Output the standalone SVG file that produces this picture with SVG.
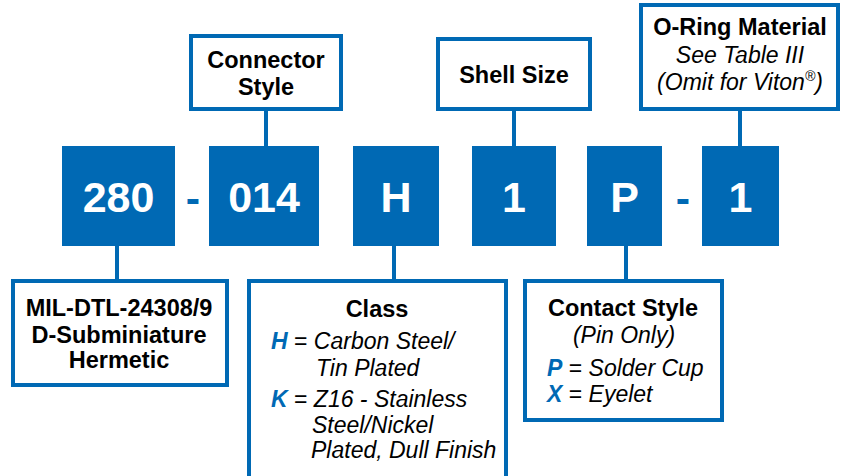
<svg xmlns="http://www.w3.org/2000/svg" width="841" height="476" viewBox="0 0 841 476">
<style>
.code{fill:#0069b4}
.box{fill:#fff;stroke:#0069b4;stroke-width:4}
.conn line{stroke:#0069b4;stroke-width:4}
.big{font-family:"Liberation Sans",Arial,sans-serif;font-weight:bold;font-size:43px;fill:#fff;text-anchor:middle}
.dash{font-family:"Liberation Sans",Arial,sans-serif;font-weight:bold;font-size:43px;fill:#0069b4;text-anchor:middle}
.hd{font-family:"Liberation Sans",Arial,sans-serif;font-weight:bold;font-size:23.5px;fill:#000;text-anchor:middle}
.it{font-family:"Liberation Sans",Arial,sans-serif;font-style:italic;font-size:23px;fill:#000}
.c{text-anchor:middle}
.k{font-weight:bold;fill:#0069b4}
.n{font-style:normal}
</style>
<rect width="841" height="476" fill="#fff"/>
<g class="conn">
<line x1="266" y1="109" x2="266" y2="147"/>
<line x1="514" y1="109" x2="514" y2="147"/>
<line x1="740" y1="109" x2="740" y2="147"/>
<line x1="117" y1="245" x2="117" y2="281"/>
<line x1="394" y1="245" x2="394" y2="281"/>
<line x1="626" y1="245" x2="626" y2="281"/>
</g>
<g id="code-280"><rect class="code" x="62" y="146" width="113" height="100"/><text class="big" x="118.5" y="212">280</text></g>
<g id="dash1"><text class="dash" x="193" y="213">-</text></g>
<g id="code-014"><rect class="code" x="209" y="146" width="110" height="100"/><text class="big" x="264" y="212">014</text></g>
<g id="code-H"><rect class="code" x="353" y="146" width="86" height="100"/><text class="big" x="396" y="212">H</text></g>
<g id="code-1a"><rect class="code" x="472" y="146" width="84" height="100"/><text class="big" x="514" y="212">1</text></g>
<g id="code-P"><rect class="code" x="587" y="146" width="75" height="100"/><text class="big" x="624.5" y="212">P</text></g>
<g id="dash2"><text class="dash" x="683" y="213">-</text></g>
<g id="code-1b"><rect class="code" x="702" y="146" width="77" height="100"/><text class="big" x="740.5" y="212">1</text></g>

<g id="connector-style"><rect class="box" x="191" y="36" width="150" height="73"/>
<text class="hd" x="266" y="68">Connector</text><text class="hd" x="266" y="95">Style</text></g>
<g id="shell-size"><rect class="box" x="438" y="39" width="152" height="70"/>
<text class="hd" x="514" y="83">Shell Size</text></g>
<g id="oring"><rect class="box" x="641" y="5" width="197" height="104"/>
<text class="hd" x="740" y="35">O-Ring Material</text>
<text class="it c" x="740" y="63">See Table III</text>
<text class="it c" x="740" y="90">(Omit for Viton<tspan font-size="14" dy="-9">®</tspan><tspan dy="9">)</tspan></text></g>
<g id="mil"><rect class="box" x="13" y="281" width="214" height="104"/>
<text class="hd" x="119" y="316">MIL-DTL-24308/9</text>
<text class="hd" x="119" y="343">D-Subminiature</text>
<text class="hd" x="119" y="368">Hermetic</text></g>
<g id="class"><rect class="box" x="249" y="281" width="257" height="220"/>
<text class="hd" x="377" y="317">Class</text>
<text class="it" x="271" y="349"><tspan class="k">H</tspan><tspan class="n"> = </tspan>Carbon Steel/</text>
<text class="it" x="316" y="376">Tin Plated</text>
<text class="it" x="271" y="407"><tspan class="k">K</tspan><tspan class="n"> = </tspan>Z16 - Stainless</text>
<text class="it" x="312" y="433">Steel/Nickel</text>
<text class="it" x="311" y="458">Plated, Dull Finish</text></g>
<g id="contact"><rect class="box" x="525" y="281" width="197" height="139"/>
<text class="hd" x="623" y="316">Contact Style</text>
<text class="it c" x="624" y="343">(Pin Only)</text>
<text class="it" x="547" y="376"><tspan class="k">P</tspan><tspan class="n"> = </tspan>Solder Cup</text>
<text class="it" x="547" y="402"><tspan class="k">X</tspan><tspan class="n"> = </tspan>Eyelet</text></g>
</svg>
